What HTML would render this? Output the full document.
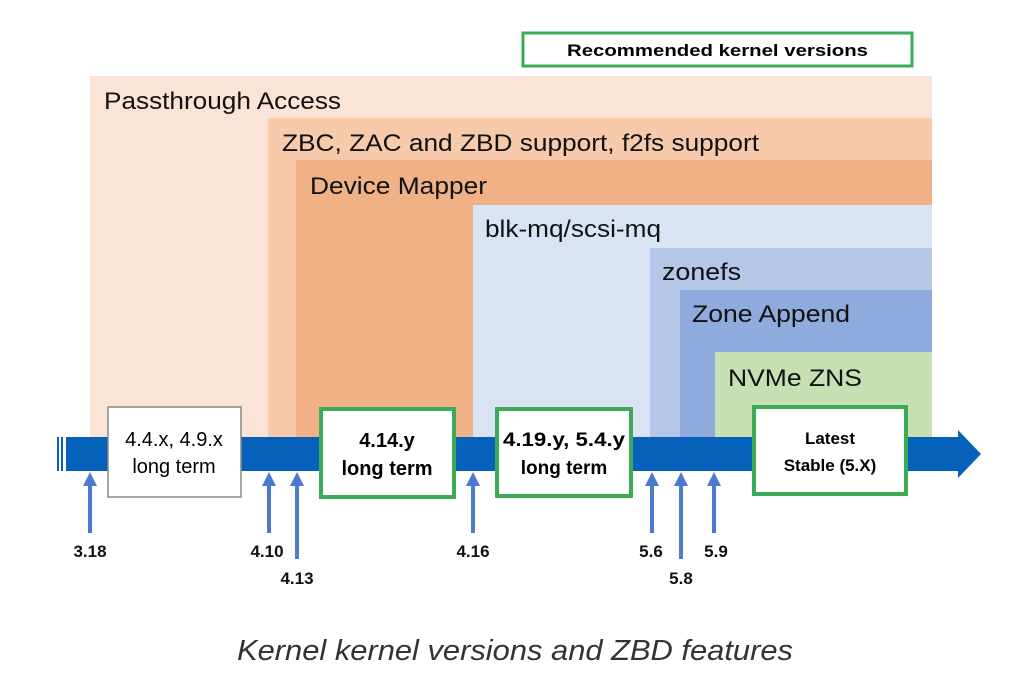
<!DOCTYPE html>
<html><head><meta charset="utf-8"><style>
html,body{margin:0;padding:0;background:#fff;width:1011px;height:674px;overflow:hidden}
svg text{font-family:"Liberation Sans",Arial,sans-serif}
</style></head><body>
<svg width="1011" height="674" viewBox="0 0 1011 674" xmlns="http://www.w3.org/2000/svg">
<rect x="90" y="76" width="842" height="362" fill="#fbe4d6"/>
<rect x="268" y="118" width="664" height="320" fill="#f7caac"/>
<rect x="296" y="160" width="636" height="278" fill="#f0b186"/>
<rect x="473" y="205" width="459" height="233" fill="#dae3f3"/>
<rect x="650" y="248" width="282" height="190" fill="#b4c7e7"/>
<rect x="680" y="290" width="252" height="148" fill="#8faadc"/>
<rect x="715" y="352" width="217" height="86" fill="#c6e0b4"/>
<g font-size="24" fill="#111" lengthAdjust="spacingAndGlyphs">
<text x="104" y="109" textLength="237" lengthAdjust="spacingAndGlyphs">Passthrough Access</text>
<text x="282" y="151" textLength="477" lengthAdjust="spacingAndGlyphs">ZBC, ZAC and ZBD support, f2fs support</text>
<text x="310" y="194" textLength="177" lengthAdjust="spacingAndGlyphs">Device Mapper</text>
<text x="485" y="237" textLength="176" lengthAdjust="spacingAndGlyphs">blk-mq/scsi-mq</text>
<text x="662" y="280" textLength="79" lengthAdjust="spacingAndGlyphs">zonefs</text>
<text x="692" y="322" textLength="158" lengthAdjust="spacingAndGlyphs">Zone Append</text>
<text x="728" y="386" textLength="134" lengthAdjust="spacingAndGlyphs">NVMe ZNS</text>
</g>
<rect x="523" y="33" width="389" height="33" fill="#fff" stroke="#3cab55" stroke-width="3"/>
<text x="567" y="56" font-size="17" font-weight="bold" textLength="301" lengthAdjust="spacingAndGlyphs">Recommended kernel versions</text>
<rect x="66" y="437" width="894" height="34" fill="#0661bb"/>
<rect x="57" y="437" width="2" height="34" fill="#0661bb"/>
<rect x="61" y="437" width="2" height="34" fill="#0661bb"/>
<polygon points="958,430 981,454 958,478" fill="#0661bb"/>
<rect x="108" y="407" width="133" height="90" fill="#fff" stroke="#888" stroke-width="1.5"/>
<text x="174" y="446" font-size="20" text-anchor="middle">4.4.x, 4.9.x</text>
<text x="174" y="473" font-size="20" text-anchor="middle">long term</text>
<rect x="321" y="409" width="133" height="88" fill="#fff" stroke="#3cab55" stroke-width="4"/>
<text x="387" y="447" font-size="20" font-weight="bold" text-anchor="middle">4.14.y</text>
<text x="387" y="475" font-size="20" font-weight="bold" text-anchor="middle">long term</text>
<rect x="497" y="409" width="134" height="87" fill="#fff" stroke="#3cab55" stroke-width="4"/>
<text x="564" y="446" font-size="19" font-weight="bold" text-anchor="middle" textLength="122" lengthAdjust="spacingAndGlyphs">4.19.y, 5.4.y</text>
<text x="564" y="474" font-size="19" font-weight="bold" text-anchor="middle">long term</text>
<rect x="754" y="407" width="152" height="87" fill="#fff" stroke="#3cab55" stroke-width="4"/>
<text x="830" y="444" font-size="17" font-weight="bold" text-anchor="middle">Latest</text>
<text x="830" y="471" font-size="17" font-weight="bold" text-anchor="middle">Stable (5.X)</text>
<g fill="#4a7bd0">
<rect x="88" y="484" width="4" height="49"/><polygon points="83,486 90,472 97,486"/>
<rect x="267" y="484" width="4" height="49"/><polygon points="262,486 269,472 276,486"/>
<rect x="295" y="484" width="4" height="75"/><polygon points="290,486 297,472 304,486"/>
<rect x="471" y="484" width="4" height="49"/><polygon points="466,486 473,472 480,486"/>
<rect x="650" y="484" width="4" height="49"/><polygon points="645,486 652,472 659,486"/>
<rect x="679" y="484" width="4" height="75"/><polygon points="674,486 681,472 688,486"/>
<rect x="712" y="484" width="4" height="49"/><polygon points="707,486 714,472 721,486"/>
</g>
<g font-size="17" font-weight="bold" text-anchor="middle" fill="#111">
<text x="90" y="557">3.18</text>
<text x="267" y="557">4.10</text>
<text x="297" y="584">4.13</text>
<text x="473" y="557">4.16</text>
<text x="651" y="557">5.6</text>
<text x="681" y="584">5.8</text>
<text x="716" y="557">5.9</text>
</g>
<text x="237" y="660" font-size="29" font-style="italic" fill="#333" textLength="556" lengthAdjust="spacingAndGlyphs">Kernel kernel versions and ZBD features</text>
</svg>
</body></html>
